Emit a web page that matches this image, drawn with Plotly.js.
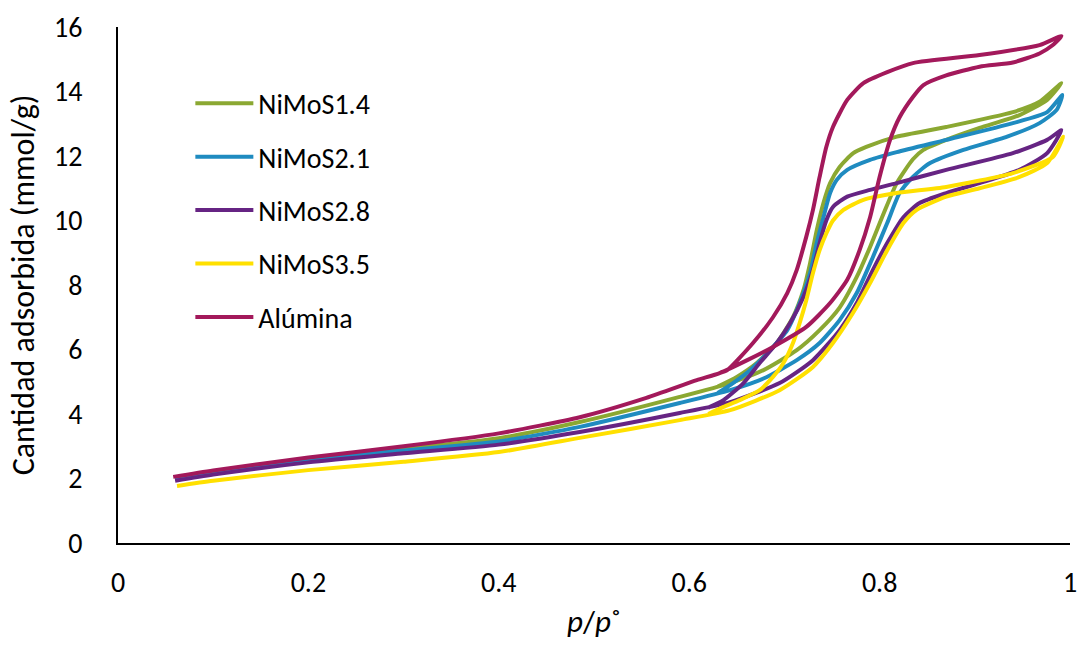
<!DOCTYPE html>
<html><head><meta charset="utf-8">
<script src="https://cdn.plot.ly/plotly-3.0.1.min.js"></script>
<style>html,body{margin:0;padding:0;background:#fff}</style>
</head><body><div id="chart" style="width:1079px;height:646px"></div>
<script>
// NiMoS1.4
const green_ads_x = [0.060,0.1,0.2,0.3,0.4,0.485,0.590,0.643,0.678,0.713,0.737,0.758,0.776,0.790,0.804,0.818,0.835,0.846,0.870,0.905,0.947,0.976,0.991];
const green_ads_y = [2.0,2.2,2.6,2.92,3.25,3.75,4.53,4.96,5.36,5.98,6.6,7.3,8.25,9.18,10.2,11.16,11.9,12.19,12.5,12.87,13.27,13.74,14.26];
const green_des_x = [0.968,0.940,0.870,0.818,0.786,0.772,0.758,0.748,0.741,0.734,0.727,0.720,0.709,0.692,0.671,0.650,0.630];
const green_des_y = [13.68,13.36,12.9,12.6,12.28,12.08,11.66,11.16,10.54,9.7,8.68,7.84,7.0,6.2,5.58,5.15,4.85];
// NiMoS2.1
const blue_ads_x = [0.060,0.1,0.2,0.3,0.4,0.485,0.590,0.643,0.678,0.713,0.737,0.758,0.776,0.793,0.808,0.821,0.835,0.853,0.888,0.934,0.968,0.986,0.992];
const blue_ads_y = [1.98,2.18,2.58,2.87,3.15,3.6,4.34,4.74,5.1,5.67,6.2,6.91,7.75,8.87,9.92,10.85,11.35,11.78,12.19,12.6,13.02,13.43,13.89];
const blue_des_x = [0.976,0.940,0.870,0.818,0.790,0.766,0.755,0.748,0.741,0.734,0.727,0.716,0.703,0.685,0.664,0.646,0.630];
const blue_des_y = [13.36,13.02,12.5,12.12,11.88,11.57,11.26,10.85,10.1,9.3,8.37,7.44,6.6,5.98,5.36,4.96,4.65];
// NiMoS2.8
const purple_ads_x = [0.060,0.1,0.2,0.3,0.4,0.485,0.590,0.643,0.695,0.730,0.758,0.776,0.793,0.808,0.825,0.842,0.870,0.905,0.947,0.976,0.991];
const purple_ads_y = [1.93,2.12,2.5,2.78,3.05,3.44,4.03,4.37,4.96,5.67,6.6,7.44,8.47,9.3,10.1,10.54,10.85,11.16,11.57,12.09,12.8];
const purple_des_x = [0.976,0.940,0.870,0.818,0.790,0.766,0.751,0.744,0.737,0.730,0.720,0.706,0.692,0.674,0.657,0.636,0.620];
const purple_des_y = [12.5,12.09,11.57,11.16,10.95,10.74,10.42,10.0,9.3,8.47,7.63,6.82,6.2,5.58,4.96,4.43,4.2];
// NiMoS3.5
const yellow_ads_x = [0.062,0.1,0.2,0.3,0.4,0.485,0.590,0.643,0.695,0.730,0.751,0.772,0.790,0.808,0.825,0.839,0.870,0.905,0.947,0.976,0.993];
const yellow_ads_y = [1.77,1.93,2.26,2.52,2.82,3.26,3.81,4.12,4.74,5.46,6.2,7.13,8.06,9.08,9.92,10.33,10.74,11.0,11.35,11.78,12.6];
const yellow_des_x = [0.982,0.940,0.870,0.818,0.783,0.762,0.751,0.744,0.737,0.730,0.723,0.716,0.709,0.699,0.688,0.674,0.653,0.636,0.620];
const yellow_des_y = [11.97,11.47,11.04,10.85,10.64,10.33,10.0,9.6,9.08,8.37,7.53,6.82,6.2,5.58,5.15,4.74,4.43,4.22,4.0];
// Alúmina
const alu_ads_x = [0.058,0.1,0.2,0.3,0.4,0.485,0.555,0.608,0.632,0.661,0.688,0.723,0.748,0.766,0.779,0.790,0.800,0.811,0.821,0.835,0.846,0.870,0.905,0.940,0.968,0.982,0.991];
const alu_ads_y = [2.05,2.25,2.65,3.0,3.4,3.9,4.5,5.05,5.27,5.67,6.08,6.7,7.44,8.16,9.08,10.1,11.35,12.5,13.2,13.83,14.2,14.5,14.77,14.9,15.18,15.44,15.72];
const alu_des_x = [0.968,0.905,0.835,0.808,0.783,0.766,0.751,0.744,0.737,0.730,0.723,0.713,0.703,0.688,0.667,0.640,0.632];
const alu_des_y = [15.44,15.13,14.88,14.6,14.26,13.74,12.9,12.28,11.35,10.33,9.5,8.47,7.75,7.0,6.2,5.36,5.27];

const names = ['NiMoS1.4','NiMoS2.1','NiMoS2.8','NiMoS3.5','Alúmina'];
const colors = ['#8BA832','#1F8BC0','#662483','#FFE000','#A3195B'];
const xTickVals = [0,0.2,0.4,0.6,0.8,1];
const xTickText = ['0','0.2','0.4','0.6','0.8','1'];
const yTickVals = [0,2,4,6,8,10,12,14,16];

const sets = [
  [green_ads_x, green_ads_y, green_des_x, green_des_y],
  [blue_ads_x, blue_ads_y, blue_des_x, blue_des_y],
  [purple_ads_x, purple_ads_y, purple_des_x, purple_des_y],
  [yellow_ads_x, yellow_ads_y, yellow_des_x, yellow_des_y],
  [alu_ads_x, alu_ads_y, alu_des_x, alu_des_y]
];
const FONT = 'Carlito, Lato, "Open Sans", sans-serif';
const traces = sets.map((s, i) => ({
  x: s[0].concat(s[2]),
  y: s[1].concat(s[3]),
  name: names[i],
  legendgroup: 'g' + i,
  mode: 'lines',
  type: 'scatter',
  line: {color: colors[i], width: 4, shape: 'spline', smoothing: 0.6}
}));

const layout = {
  width: 1079, height: 646,
  margin: {l: 118, r: 9, t: 27, b: 103},
  paper_bgcolor: '#fff', plot_bgcolor: '#fff',
  font: {family: FONT, color: '#000', size: 28},
  showlegend: true,
  legend: {x: 0.076, y: 0.9, xanchor: 'left', yanchor: 'top', traceorder: 'grouped',
           itemwidth: 58, tracegroupgap: 14, font: {family: FONT, size: 28, color: '#000'}, bgcolor: 'rgba(0,0,0,0)'},
  xaxis: {range: [0, 1], tickvals: xTickVals, ticktext: xTickText, showgrid: false, zeroline: false,
          showline: true, linecolor: '#000', linewidth: 2, ticks: '', ticklabelstandoff: 13,
          tickfont: {family: FONT, size: 28, color: '#000'},
          title: {text: '<i>p</i>/<i>p</i>˚', font: {family: FONT, size: 31, color: '#000'}, standoff: 12}},
  yaxis: {range: [0, 16], tickvals: yTickVals, showgrid: false, zeroline: false,
          showline: true, linecolor: '#000', linewidth: 2, ticks: '', ticklabelstandoff: 28,
          tickfont: {family: FONT, size: 28, color: '#000'},
          title: {text: 'Cantidad adsorbida (mmol/g)', font: {family: FONT, size: 32, color: '#000'}, standoff: 10}}
};
Plotly.newPlot('chart', traces, layout, {displayModeBar: false, staticPlot: true});
</script></body></html>
